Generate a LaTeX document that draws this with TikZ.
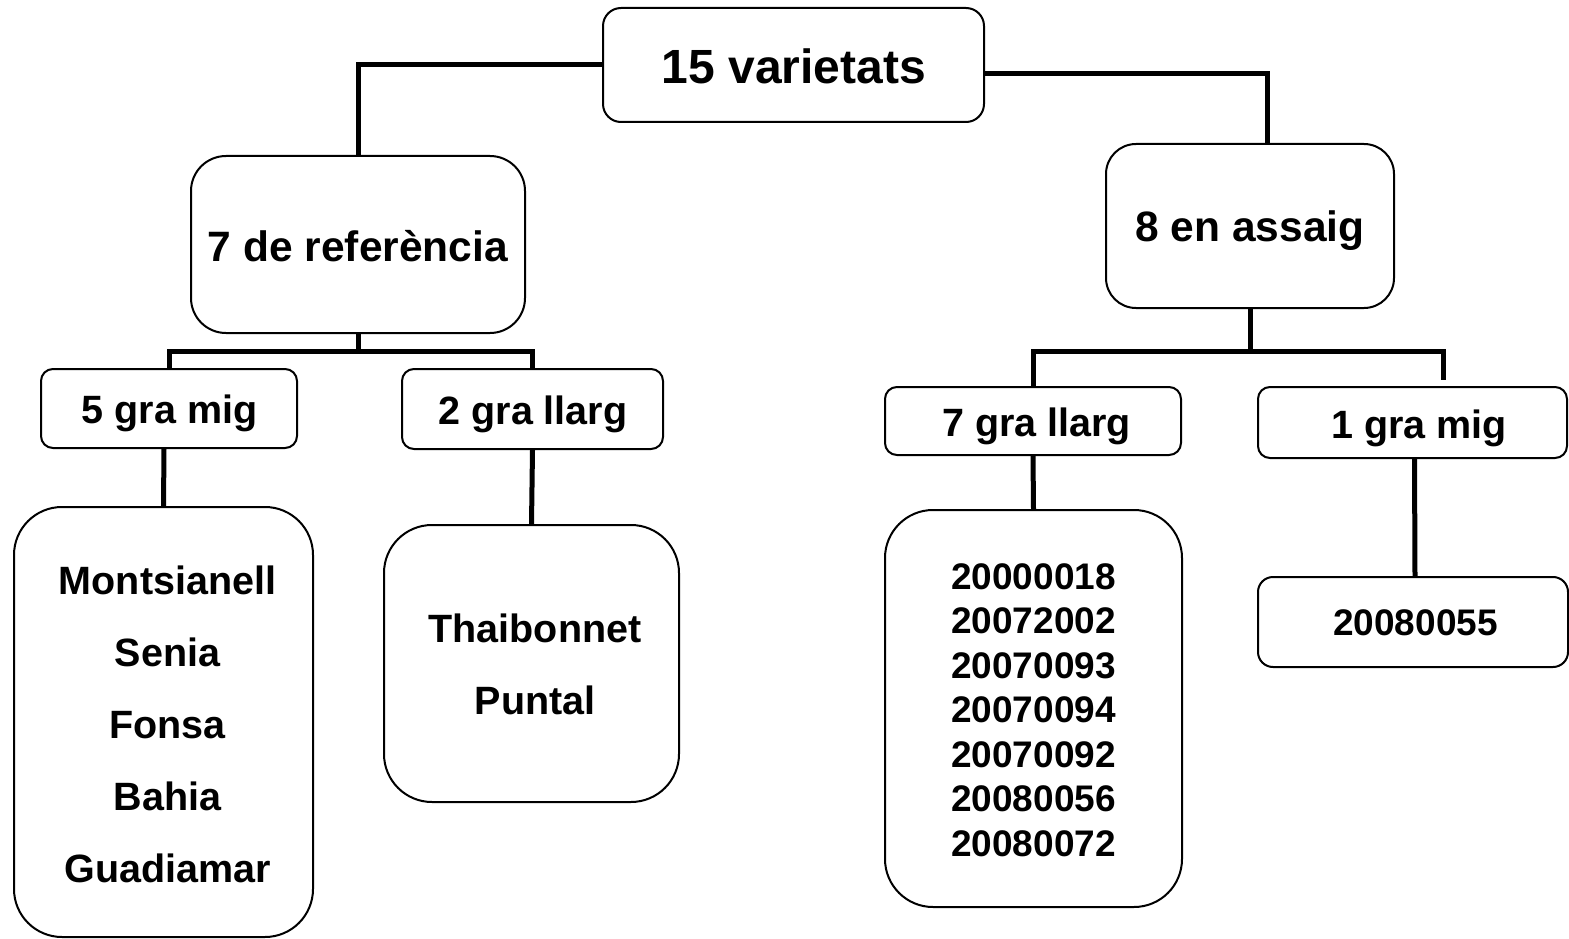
\documentclass[tikz,border=0pt]{standalone}
\usepackage{fontspec}
\setmainfont{Liberation Sans}
\begin{document}
\begin{tikzpicture}[x=1pt,y=-1pt,
  box/.style={draw=black,line width=2pt,rectangle,inner sep=0pt},
  txt/.style={inner sep=0pt,align=center,font=\bfseries},
  conn/.style={draw=black,line width=5pt}]
\useasboundingbox (0,0) rectangle (1569,939);
% level 0
\node[box,rounded corners=18pt,minimum width=381pt,minimum height=114pt] (top) at (793.5,65) {};
\node[txt,font=\bfseries\fontsize{48}{55}\selectfont] (topT) at (794,66) {15 varietats};
% level 1
\node[box,rounded corners=35pt,minimum width=334pt,minimum height=177pt] (ref) at (358,244.5) {};
\node[txt,font=\bfseries\fontsize{42.5}{50}\selectfont] (refT) at (358,246) {7 de referència};
\node[box,rounded corners=30pt,minimum width=288pt,minimum height=164pt] (assaig) at (1250,226) {};
\node[txt,font=\bfseries\fontsize{42.5}{50}\selectfont] (assaigT) at (1250,231) {8 en assaig};
% level 2
\node[box,rounded corners=12pt,minimum width=256pt,minimum height=79pt] (migA) at (169,408.5) {};
\node[txt,font=\bfseries\fontsize{39.5}{45}\selectfont] (migAT) at (169.5,413) {5 gra mig};
\node[box,rounded corners=12pt,minimum width=261pt,minimum height=80pt] (llargA) at (532.5,409) {};
\node[txt,font=\bfseries\fontsize{39.5}{45}\selectfont] (llargAT) at (533,414) {2 gra llarg};
\node[box,rounded corners=12pt,minimum width=296pt,minimum height=68pt] (llargB) at (1033,421) {};
\node[txt,font=\bfseries\fontsize{39.5}{45}\selectfont] (llargBT) at (1036.5,426) {7 gra llarg};
\node[box,rounded corners=12pt,minimum width=309pt,minimum height=71pt] (migB) at (1412.5,422.5) {};
\node[txt,font=\bfseries\fontsize{39.5}{45}\selectfont] (migBT) at (1419,428) {1 gra mig};
% level 3
\node[box,rounded corners=48pt,minimum width=299pt,minimum height=430pt] (listA) at (163.5,722) {};
\node[txt,font=\bfseries\fontsize{39.5}{72}\selectfont] (listAT) at (167.5,724) {Montsianell\\Senia\\Fonsa\\Bahia\\Guadiamar};
\node[box,rounded corners=48pt,minimum width=295pt,minimum height=277pt] (listB) at (531.5,663.5) {};
\node[txt,font=\bfseries\fontsize{39.5}{72}\selectfont] (listBT) at (535,664) {Thaibonnet\\Puntal};
\node[box,rounded corners=48pt,minimum width=297pt,minimum height=397pt] (listC) at (1033.5,708.5) {};
\node[txt,font=\bfseries\fontsize{37}{44.5}\selectfont] (listCT) at (1033.5,710) {20000018\\20072002\\20070093\\20070094\\20070092\\20080056\\20080072};
\node[box,rounded corners=15pt,minimum width=310pt,minimum height=90pt] (listD) at (1413,622) {};
\node[txt,font=\bfseries\fontsize{37}{44}\selectfont] (listDT) at (1415.5,623) {20080055};
% connectors
\coordinate (busL) at (358,351);
\coordinate (busR) at (1250,351);
\coordinate (stubR) at (1443,380);
\draw[conn] (top.west) -| (ref.north);
\draw[conn] ([yshift=-9pt]top.east) -| ([xshift=17pt]assaig.north);
\draw[conn] (ref.south) -- (busL);
\draw[conn] (migA.north) -- (migA.north |- busL) -- (llargA.north |- busL) -- (llargA.north);
\draw[conn] (assaig.south) -- (busR);
\draw[conn] (llargB.north) -- (llargB.north |- busR) -- (stubR |- busR) -- (stubR);
\draw[conn] ([xshift=-5pt]migA.south) -- (listA.north);
\draw[conn] (llargA.south) -- (listB.north);
\draw[conn] (llargB.south) -- (listC.north);
\draw[conn] ([xshift=2pt]migB.south) -- ([xshift=2pt]listD.north);
\end{tikzpicture}
\end{document}
